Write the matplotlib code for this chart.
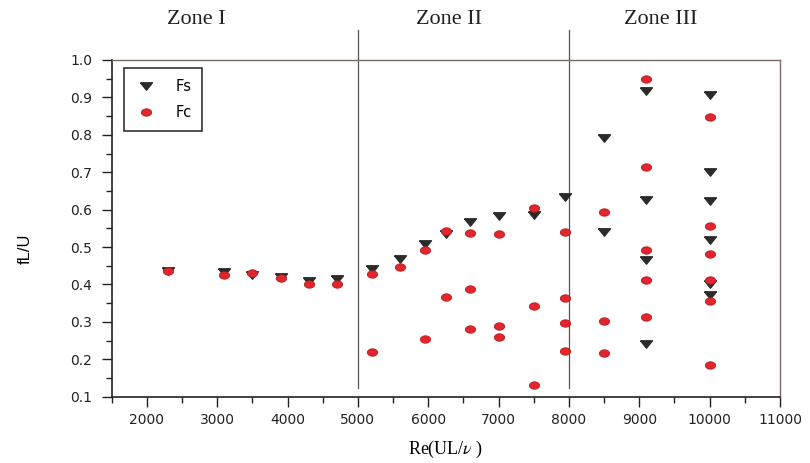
import matplotlib
matplotlib.use('Agg')
import matplotlib.pyplot as plt
import numpy as np
from matplotlib.ticker import MultipleLocator

plt.rcParams['font.family'] = ['DejaVu Sans']
plt.rcParams['mathtext.fontset'] = 'stix'

# Fs (triangles)
fs_re = [2300, 3100, 3500, 3900, 4300, 4700,
         5200, 5600, 5950, 6250, 6600, 7000, 7500, 7950,
         8500, 8500, 9100, 9100, 9100, 9100,
         10000, 10000, 10000, 10000, 10000, 10000]
fs_val = [0.437, 0.433, 0.425, 0.421, 0.410, 0.415,
          0.442, 0.469, 0.509, 0.536, 0.567, 0.583, 0.585, 0.634,
          0.791, 0.541, 0.916, 0.627, 0.466, 0.241,
          0.906, 0.700, 0.623, 0.520, 0.400, 0.373]

# Fc (circles)
fc_re = [2300, 3100, 3500, 3900, 4300, 4700,
         5200, 5200, 5600, 5950, 5950, 6250, 6250,
         6600, 6600, 6600, 7000, 7000, 7000,
         7500, 7500, 7500, 7950, 7950, 7950, 7950,
         8500, 8500, 8500, 9100, 9100, 9100, 9100, 9100,
         10000, 10000, 10000, 10000, 10000, 10000]
fc_val = [0.437, 0.424, 0.430, 0.418, 0.400, 0.400,
          0.429, 0.220, 0.447, 0.491, 0.253, 0.543, 0.366,
          0.538, 0.388, 0.280, 0.535, 0.290, 0.259,
          0.604, 0.343, 0.132, 0.540, 0.364, 0.298, 0.221,
          0.593, 0.302, 0.218, 0.948, 0.715, 0.493, 0.411, 0.312,
          0.848, 0.557, 0.482, 0.411, 0.355, 0.185]

zone_bounds = [5000, 8000]
zone_names = ['Zone I', 'Zone II', 'Zone III']
zone_label_x = [2700, 6300, 9300]

# flattened marker shapes like the scanned figure
t = np.linspace(0, 2 * np.pi, 41)
dot = np.column_stack([np.cos(t), 0.72 * np.sin(t)])
tri = [(-1, 0.62), (1, 0.62), (0, -0.62), (-1, 0.62)]

fig = plt.figure(figsize=(8.1, 4.63), dpi=100)
ax = fig.add_axes([111.7 / 810, 1 - 396.7 / 463, (780 - 111.7) / 810, (396.7 - 60) / 463])

ax.plot(fs_re, fs_val, linestyle='none', marker=tri, markersize=8.6,
        color='#2b2b2b', markeredgecolor='#2b2b2b', label='Fs', zorder=3)
ax.plot(fc_re, fc_val, linestyle='none', marker=dot, markersize=7.4,
        color='#e3262d', markeredgecolor='#b81c22', markeredgewidth=0.6,
        label='Fc', zorder=4)

for b in zone_bounds:
    ax.plot([b, b], [0.123, 1.08], color='#555555', lw=0.9, clip_on=False, zorder=2)
for name, x in zip(zone_names, zone_label_x):
    ax.text(x, 1.107, name, ha='center', va='center', fontsize=16,
            family='Liberation Serif', color='#222222')

ax.set_xlim(1500, 11000)
ax.set_ylim(0.1, 1.0)
ax.set_xticks(range(2000, 11001, 1000))
ax.set_yticks(np.arange(0.1, 1.01, 0.1))
ax.set_yticklabels(['%.1f' % v for v in np.arange(0.1, 1.01, 0.1)])
ax.xaxis.set_minor_locator(MultipleLocator(500))
ax.yaxis.set_minor_locator(MultipleLocator(0.05))

ax.tick_params(which='major', direction='out', length=7, width=1, labelsize=10,
               colors='#222222')
ax.tick_params(which='minor', direction='out', length=4, width=1, colors='#222222')
ax.tick_params(axis='y', pad=7)
ax.tick_params(axis='x', pad=5)

for side in ['top', 'right']:
    ax.spines[side].set_color('#7d6a66')
    ax.spines[side].set_linewidth(1)
for side in ['left', 'bottom']:
    ax.spines[side].set_color('#222222')
    ax.spines[side].set_linewidth(1.2)

ax.set_xlabel(r'Re(UL/$\nu$ )', fontsize=13, family='Liberation Serif', labelpad=8)
ax.set_ylabel('fL/U', fontsize=12, family='Liberation Sans')
ax.yaxis.set_label_coords(-0.118, 0.44)

leg = ax.legend(loc='upper left', bbox_to_anchor=(0.019, 0.975), borderaxespad=0,
                fancybox=False, edgecolor='#222222', fontsize=10.5,
                handlelength=1.6, handletextpad=1.2, labelspacing=0.8,
                borderpad=0.7)
leg.get_frame().set_linewidth(1.1)
leg.get_frame().set_alpha(1)

fig.savefig('out.png', dpi=100)
